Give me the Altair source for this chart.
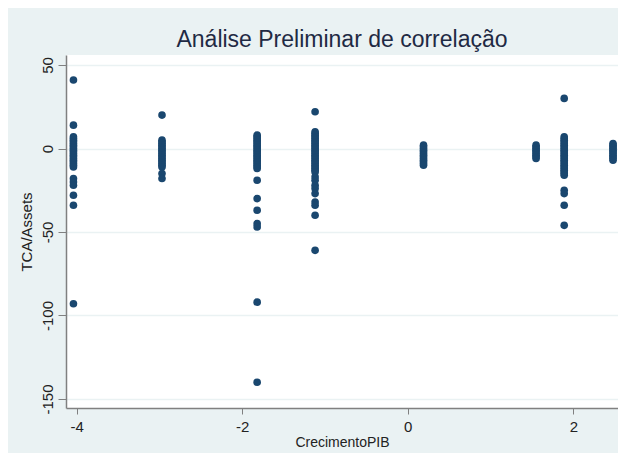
import altair as alt
import pandas as pd

# CrecimentoPIB value of each vertical column of points
growth = [-4.04, -2.97, -1.82, -1.12, 0.19, 1.55, 1.89, 2.48]

# TCA/Assets values
tca_c1 = [41, 14, 7, 6, 5, 4, 3, 2, 1, 0, -1, -2, -3, -4, -5, -6, -7, -8, -9, -10, -11,
          -18, -20, -22, -28, -34, -93]
tca_c2 = [20, 5, 4, 3, 2, 1, 0, -1, -2, -3, -4, -5, -6, -7, -8, -9, -10, -11, -15, -18]
tca_c3 = [8, 7, 6, 5, 4, 3, 2, 1, 0, -1, -2, -3, -4, -5, -6, -7, -8, -9, -10, -11, -12,
          -19, -30, -37, -45, -47, -92, -140]
tca_c4 = [22, 10, 9, 8, 7, 6, 5, 4, 3, 2, 1, 0, -1, -2, -3, -4, -5, -6, -7, -8, -9, -10,
          -11, -12, -13, -14, -17, -19, -22, -24, -27, -32, -34, -40, -61]
tca_c5 = [2, 1, 0, -1, -2, -3, -4, -5, -6, -7, -8, -9, -10]
tca_c6 = [2, 1, 0, -1, -2, -3, -4, -5, -6]
tca_c7 = [30, 7, 6, 5, 4, 3, 2, 1, 0, -1, -2, -3, -4, -5, -6, -7, -8, -9, -10, -11, -12,
          -13, -14, -15, -16, -25, -27, -34, -46]
tca_c8 = [3, 2, 1, 0, -1, -2, -3, -4, -5, -6, -7]

columns = [tca_c1, tca_c2, tca_c3, tca_c4, tca_c5, tca_c6, tca_c7, tca_c8]

x_ticks = [-4, -2, 0, 2]
y_ticks = [-150, -100, -50, 0, 50]

rows = []
for gx, ys in zip(growth, columns):
    for yv in ys:
        rows.append({"pib": gx, "tca": yv})
df = pd.DataFrame(rows)

FONT = "Liberation Sans"
TEXT = "#222222"
AXIS = "#808080"
BG = "#EAF2F3"
LABEL_EXPR = "'' + datum.value"

chart = alt.Chart(df).mark_circle(size=58, color="#1A476F", opacity=1).encode(
    x=alt.X(
        "pib:Q",
        scale=alt.Scale(domain=[-4.13, 2.54], nice=False, zero=False),
        axis=alt.Axis(
            values=x_ticks, title="CrecimentoPIB", grid=False, labelExpr=LABEL_EXPR,
            labelFontSize=15, titleFontSize=14, titleFontWeight="normal",
            labelColor=TEXT, titleColor=TEXT, labelFont=FONT, titleFont=FONT,
            domainColor=AXIS, tickColor=AXIS, tickSize=6, labelPadding=5,
            titlePadding=1, domainWidth=1.5,
        ),
    ),
    y=alt.Y(
        "tca:Q",
        scale=alt.Scale(domain=[-155.4, 56], nice=False, zero=False),
        axis=alt.Axis(
            values=y_ticks, title="TCA/Assets", grid=True, gridColor=BG, gridWidth=1.5,
            labelExpr=LABEL_EXPR,
            labelAngle=270, labelAlign="center", labelBaseline="bottom",
            labelFontSize=15, titleFontSize=15, titleFontWeight="normal",
            labelColor=TEXT, titleColor=TEXT, labelFont=FONT, titleFont=FONT,
            domainColor=AXIS, tickColor=AXIS, tickSize=8, labelPadding=3,
            titlePadding=6, domainWidth=1.5,
        ),
    ),
).properties(
    width=552,
    height=353,
    title=alt.TitleParams(
        "Análise Preliminar de correlação", fontSize=23, fontWeight="normal",
        font=FONT, color="#1F2A44", anchor="middle", offset=3,
    ),
    padding={"left": 58, "top": 47, "right": 0, "bottom": 45},
    autosize=alt.AutoSizeParams(type="none"),
    background=BG,
).configure_view(fill="white", stroke="white")

chart.save("out.html", embed_options={"renderer": "svg", "actions": False})
